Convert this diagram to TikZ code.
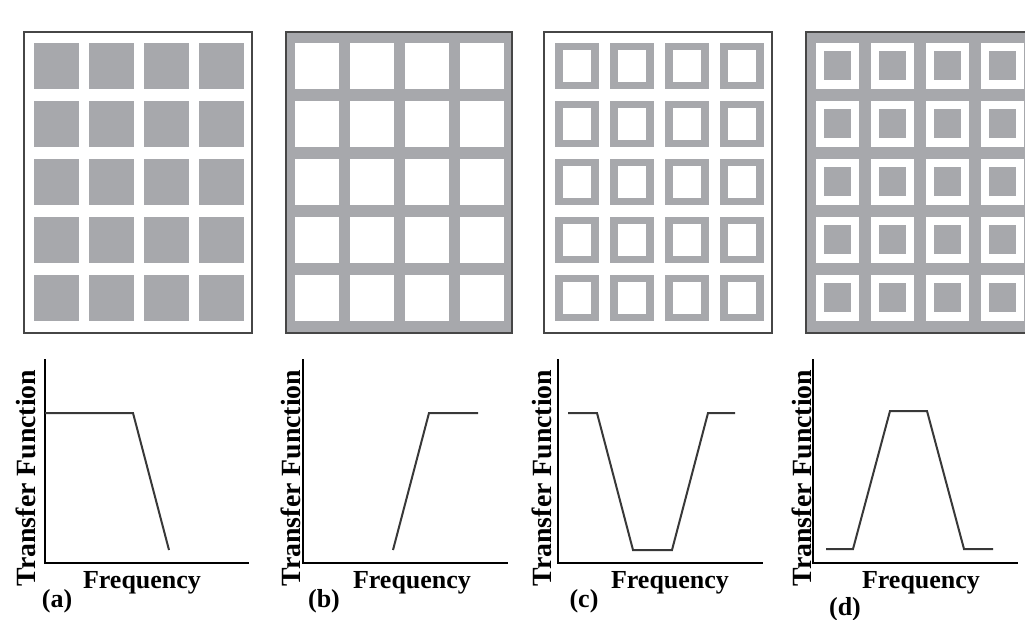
\documentclass[tikz,border=0pt]{standalone}
\usepackage{fontspec}
\setmainfont{Liberation Serif}
\definecolor{cellgray}{RGB}{167,168,172}
\definecolor{framegray}{RGB}{70,70,70}
\tikzset{
  panelframe/.style={draw=framegray, line width=2pt},
  axisline/.style={line width=2pt, black, line cap=rect},
  response/.style={line width=2pt, black!78},
  lbl/.style={font=\bfseries\fontsize{26}{28}\selectfont, inner sep=0pt},
  ylbl/.style={lbl, font=\bfseries\fontsize{27.8}{30}\selectfont, rotate=90, anchor=base},
}

\begin{document}
\begin{tikzpicture}[x=1pt, y=-1pt]
    \clip (0,0) rectangle (1025,620);

    % --- Panel (a): gray cells on white ---
    \draw[panelframe, fill=white] (24,32) rectangle (252,333);
    \foreach \i in {0,...,3} \foreach \j in {0,...,4}
        \fill[cellgray] ({34+55*\i},{43+58*\j}) rectangle ++(45,46);

    % --- Panel (b): white cells on gray ---
    \draw[panelframe, fill=cellgray] (286,32) rectangle (512,333);
    \foreach \i in {0,...,3} \foreach \j in {0,...,4}
        \fill[white] ({295+55*\i},{43+58*\j}) rectangle ++(44,46);

    % --- Panel (c): gray rings on white ---
    \draw[panelframe, fill=white] (544,32) rectangle (772,333);
    \foreach \i in {0,...,3} \foreach \j in {0,...,4} {
        \fill[cellgray] ({555+55*\i},{43+58*\j}) rectangle ++(44,46);
        \fill[white] ({563+55*\i},{50+58*\j}) rectangle ++(28,32);
    }

    % --- Panel (d): gray dots in white cells on gray ---
    \draw[panelframe, fill=cellgray] (806,32) rectangle (1034,333);
    \foreach \i in {0,...,3} \foreach \j in {0,...,4} {
        \fill[white] ({816+55*\i},{43+58*\j}) rectangle ++(43,46);
        \fill[cellgray] ({824+55*\i},{51+58*\j}) rectangle ++(27,29);
    }

    % --- Axes ---
    \coordinate (Oa) at (45,563);  \coordinate (Ta) at (45,360);  \coordinate (Ea) at (248,563);
    \coordinate (Ob) at (303,563); \coordinate (Tb) at (303,360); \coordinate (Eb) at (507,563);
    \coordinate (Oc) at (558,563); \coordinate (Tc) at (558,360); \coordinate (Ec) at (762,563);
    \coordinate (Od) at (813,563); \coordinate (Td) at (813,360); \coordinate (Ed) at (1017,563);
    \draw[axisline] (Ta) -- (Oa) -- (Ea);
    \draw[axisline] (Tb) -- (Ob) -- (Eb);
    \draw[axisline] (Tc) -- (Oc) -- (Ec);
    \draw[axisline] (Td) -- (Od) -- (Ed);

    % --- Transfer functions ---
    \draw[response] (45,413) -- (133,413) -- (169,550);                                   % low pass
    \draw[response] (393,550) -- (429,413) -- (478,413);                                  % high pass
    \draw[response] (568,413) -- (597,413) -- (633,550) -- (672,550) -- (708,413) -- (735,413); % band stop
    \draw[response] (826,549) -- (853,549) -- (890,411) -- (927,411) -- (964,549) -- (993,549); % band pass

    % --- Labels ---
    \node[ylbl] (tfa) at (35,478) {Transfer Function};
    \node[ylbl] (tfb) at (300,478) {Transfer Function};
    \node[ylbl] (tfc) at (551,478) {Transfer Function};
    \node[ylbl] (tfd) at (811,478) {Transfer Function};
    \node[lbl, anchor=base] (fqa) at (142,588) {Frequency};
    \node[lbl, anchor=base] (fqb) at (412,588) {Frequency};
    \node[lbl, anchor=base] (fqc) at (670,588) {Frequency};
    \node[lbl, anchor=base] (fqd) at (921,588) {Frequency};
    \node[lbl, anchor=base] (capa) at (57,607) {(a)};
    \node[lbl, anchor=base] (capb) at (324,607) {(b)};
    \node[lbl, anchor=base] (capc) at (584,607) {(c)};
    \node[lbl, anchor=base] (capd) at (845,615) {(d)};

\end{tikzpicture}
\end{document}
